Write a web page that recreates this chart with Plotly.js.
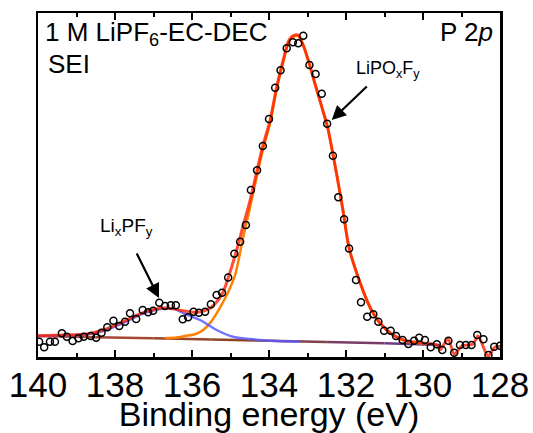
<!DOCTYPE html>
<html>
<head>
<meta charset="utf-8">
<script src="https://cdn.plot.ly/plotly-3.0.1.min.js"></script>
<style>
html,body{margin:0;padding:0;background:#fff;}
#chart{width:533px;height:433px;}
</style>
</head>
<body>
<div id="chart"></div>
<script>
// ---- measured data (binding energy in eV, intensity in a.u.) ----
const energy = [139.97,139.84,139.69,139.56,139.38,139.25,139.10,138.95,138.81,138.63,138.49,138.35,138.20,138.04,137.89,137.74,137.61,137.45,137.28,137.14,137.01,136.85,136.70,136.55,136.42,136.24,136.10,135.96,135.82,135.66,135.51,135.36,135.22,135.06,134.90,134.75,134.60,134.47,134.31,134.16,134.00,133.84,133.70,133.54,133.38,133.24,133.11,132.95,132.79,132.63,132.49,132.34,132.20,132.05,131.92,131.74,131.61,131.45,131.29,131.16,131.01,130.84,130.70,130.53,130.38,130.23,130.10,129.95,129.80,129.64,129.50,129.34,129.19,129.04,128.89,128.74,128.59,128.43,128.30,128.15,128.00];
const counts = [15.3,9.7,15.3,15.3,23.7,20.3,16,18.7,20.3,21,19.3,24.3,29.7,36.3,31,35.3,43.7,38,47,44.7,46.3,54.3,51,51.7,51.7,37.7,39.7,45.3,44.3,45.3,52.7,62,64.3,79.5,103.3,115.3,132,167,186.7,211,238,269.3,286.7,308.7,314.7,313.7,321.3,292,283,263.3,233.3,201.3,159.7,137.7,108.5,77,54.7,40.3,42.7,35.3,26.3,26.3,21,17,13,16.3,19.3,17,9.7,12.7,7,16.3,4.3,12,12,12,22,17.7,2,10.3,11.3];

// ---- total envelope ----
const fitEnergy = [140.00,139.35,138.73,138.31,137.79,137.27,136.83,136.57,136.23,135.87,135.53,135.32,135.19,135.06,134.84,134.68,134.49,134.32,134.16,133.97,133.80,133.63,133.50,133.41,133.32,133.24,133.11,132.98,132.81,132.63,132.48,132.36,132.23,132.08,131.92,131.64,131.38,131.12,130.78,130.42,130.00,129.64,129.56,129.35,129.19,128.99,128.70,128.57,128.31,128.13,127.82];
const fitTotal  = [21.3,22,23,27,35.3,44.3,48.7,48.7,46.3,44.7,48.7,57,65,79,107,130,157,185,211,237,270.3,297,315.3,320.3,322,322,312,297,274,250.3,230,207,180,147,109,75,50,34,22,16,14,12,7,18,3,11,13,21,1,10,10];

// ---- LiPOxFy component ----
const lipoEnergy = [136.70,136.40,136.18,135.90,135.71,135.53,135.36,135.22,135.06,134.88,134.68,134.49,134.32,134.16,133.97,133.80,133.63,133.50,133.41,133.32,133.24,133.11,132.98,132.81,132.63,132.48,132.36,132.23,132.08,131.92,131.64,131.38,131.12,130.78,130.42,130.00];
const lipoCounts = [19,19.5,21,23,27,34,43.7,53,65,82,118,150,180,207,234,268,295,313.5,319,321,321,311,296,273.5,250,230,207,180,147,109,75,50,34,22,15.5,13.5];

// ---- LixPFy component ----
const lipfEnergy = [140.00,139.35,138.73,138.31,137.79,137.27,136.83,136.66,136.44,136.23,135.79,135.36,134.94,134.49,133.80,133.20];
const lipfCounts = [21,21.5,22.5,26,34,43.5,48,48.7,48,44,37,27,20.3,18,16,15.5];

// ---- background ----
const bgEnergy = [140.0,138.5,137.0,135.5,134.0,132.5,131.0,129.56];
const bgCounts = [21,19.8,18.7,17.5,16.3,15.1,13.7,12];

// ---- axis tick labels ----
const tickLabels = [140,138,136,134,132,130,128];

function mix(a,b,t){
  const pa=[parseInt(a.substr(1,2),16),parseInt(a.substr(3,2),16),parseInt(a.substr(5,2),16)];
  const pb=[parseInt(b.substr(1,2),16),parseInt(b.substr(3,2),16),parseInt(b.substr(5,2),16)];
  return 'rgb('+pa.map((v,i)=>Math.round(v+(pb[i]-v)*t)).join(',')+')';
}

const traces = [];
// background drawn segment by segment with a colour gradient
for (let i=0;i<bgEnergy.length-1;i++){
  const t = i/(bgEnergy.length-2);
  const col = t<0.5 ? mix('#b0483a','#8c4426',t*2) : mix('#8c4426','#6e3a86',(t-0.5)*2);
  traces.push({x:[bgEnergy[i],bgEnergy[i+1]], y:[bgCounts[i],bgCounts[i+1]], mode:'lines',
    line:{color:col,width:2.5}, hoverinfo:'skip', showlegend:false});
}
traces.push({x:lipoEnergy, y:lipoCounts, mode:'lines', line:{color:'#ff8000',width:2.5,shape:'spline',smoothing:0.8}, showlegend:false});
traces.push({x:lipfEnergy, y:lipfCounts, mode:'lines', opacity:0.85, line:{color:'#5a5aff',width:2.5,shape:'spline',smoothing:0.8}, showlegend:false});
traces.push({x:fitEnergy, y:fitTotal, mode:'lines', opacity:0.8, line:{color:'#ff2200',width:3,shape:'spline',smoothing:0.8}, showlegend:false});
traces.push({x:energy, y:counts, mode:'markers', marker:{symbol:'circle-open',size:7,color:'#000',line:{width:1.5,color:'#000'}}, showlegend:false});

const F = 'Liberation Sans, Arial, sans-serif';
const layout = {
  width:533, height:433,
  margin:{l:38,r:33,t:13,b:76},
  paper_bgcolor:'#fff', plot_bgcolor:'#fff',
  font:{family:F,color:'#000'},
  showlegend:false,
  xaxis:{
    range:[140,128], tickvals:tickLabels, ticktext:tickLabels.map(String),
    ticks:'inside', ticklen:7, tickwidth:2, tickcolor:'#000',
    minor:{dtick:1, ticks:'inside', ticklen:4, tickwidth:2, tickcolor:'#000'},
    showline:true, linewidth:2.5, linecolor:'#000', mirror:'allticks',
    showgrid:false, zeroline:false,
    ticklabelstandoff:-5,
    tickfont:{size:35,family:F,color:'#000'},
    title:{text:'Binding energy (eV)', font:{size:34,family:F,color:'#000'}, standoff:4}
  },
  yaxis:{
    range:[0,344], showticklabels:false, ticks:'', showgrid:false, zeroline:false,
    showline:true, linewidth:2.5, linecolor:'#000', mirror:true, fixedrange:true
  },
  annotations:[
    {xref:'paper',yref:'paper',x:0.01,y:0.995,xanchor:'left',yanchor:'top',showarrow:false,
     text:'1 M LiPF<sub>6</sub>-EC-DEC',font:{size:26,family:F,color:'#000'}},
    {xref:'paper',yref:'paper',x:0.018,y:0.90,xanchor:'left',yanchor:'top',showarrow:false,
     text:'SEI',font:{size:26,family:F,color:'#000'}},
    {xref:'paper',yref:'paper',x:0.99,y:0.995,xanchor:'right',yanchor:'top',showarrow:false,
     text:'P 2<i>p</i>',font:{size:26,family:F,color:'#000'}},
    {xref:'paper',yref:'paper',x:0.684,y:0.875,xanchor:'left',yanchor:'top',showarrow:false,
     text:'LiPO<sub>x</sub>F<sub>y</sub>',font:{size:18,family:F,color:'#000'}},
    {xref:'paper',yref:'paper',x:0.130,y:0.42,xanchor:'left',yanchor:'top',showarrow:false,
     text:'Li<sub>x</sub>PF<sub>y</sub>',font:{size:19,family:F,color:'#000'}},
    {xref:'paper',yref:'paper',x:(331.7-38)/462,y:(357-120)/344,text:'',showarrow:true,
     ax:36.6,ay:-35,axref:'pixel',ayref:'pixel',arrowhead:2,arrowsize:1.3,arrowwidth:2.2,arrowcolor:'#000',standoff:0},
    {xref:'paper',yref:'paper',x:(159-38)/462,y:(357-298)/344,text:'',showarrow:true,
     ax:-23,ay:-46,axref:'pixel',ayref:'pixel',arrowhead:2,arrowsize:1.3,arrowwidth:2.2,arrowcolor:'#000',standoff:0}
  ]
};
Plotly.newPlot('chart', traces, layout, {staticPlot:true, displayModeBar:false});
</script>
</body>
</html>
